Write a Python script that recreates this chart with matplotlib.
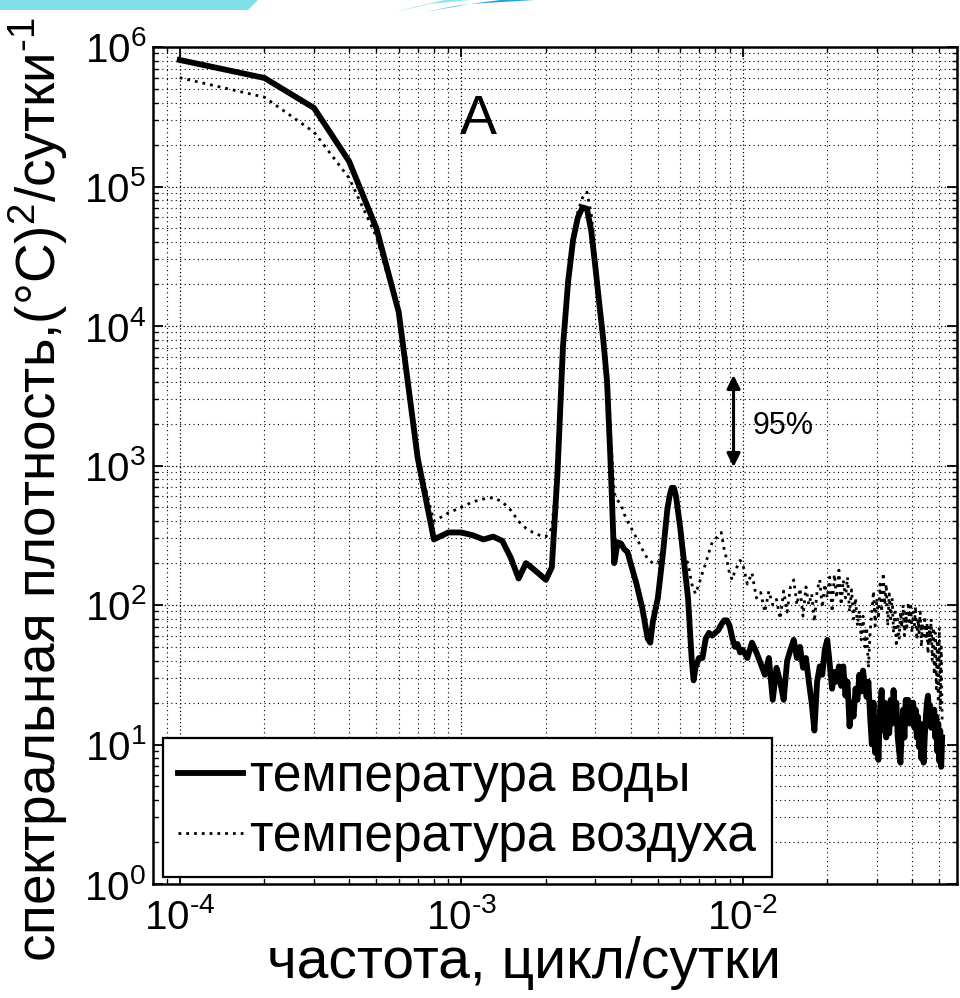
import numpy as np
import matplotlib
matplotlib.use('Agg')
import matplotlib.pyplot as plt
from matplotlib.ticker import FixedLocator, FuncFormatter, NullFormatter
from matplotlib.patches import Polygon

plt.rcParams['font.family'] = ['Liberation Sans', 'DejaVu Sans']
plt.rcParams['mathtext.fontset'] = 'custom'
plt.rcParams['mathtext.rm'] = 'Liberation Sans'
plt.rcParams['mathtext.it'] = 'Liberation Sans:italic'
plt.rcParams['mathtext.bf'] = 'Liberation Sans:bold'

# ---------------- data (frequency index k, f = k * df) ----------------
df = 1e-4  # cycles/day

water_k_lo = [1, 2, 3, 4, 5, 6, 7, 8, 9, 10, 11, 12, 13, 14, 15, 16, 17, 18, 19, 20,
              21, 22, 23, 24, 25, 26, 27, 28, 29, 30, 31, 32, 33, 34, 35,
              36, 37, 38, 39, 40, 42, 44, 46, 47, 48, 50, 52, 54, 55, 56, 57, 58, 60,
              62, 64, 66, 67, 68, 70, 72, 74, 76, 78, 80, 82, 84, 86, 88, 90, 92, 94, 96, 98]
water_log_lo = [5.907, 5.778, 5.563, 5.18, 4.70, 4.10, 3.06, 2.47, 2.52, 2.52, 2.50, 2.47,
                2.49, 2.46, 2.34, 2.19, 2.30, 2.26, 2.22, 2.18,
                2.27, 2.95, 3.85, 4.32, 4.62, 4.78, 4.85, 4.84, 4.68, 4.42, 4.15, 3.90, 3.60, 3.00, 2.30,
                2.45, 2.44, 2.40, 2.38, 2.30, 2.15, 1.98, 1.76, 1.73, 1.88, 2.05, 2.35, 2.68, 2.78, 2.84, 2.84, 2.78, 2.56,
                2.30, 2.05, 1.60, 1.46, 1.55, 1.62, 1.62, 1.76, 1.80, 1.78, 1.80, 1.82, 1.86, 1.89, 1.89, 1.85, 1.76, 1.70, 1.72, 1.66]

water_k_hi = list(range(100, 513, 4))
water_log_hi = [1.68, 1.62, 1.73, 1.66, 1.58, 1.50, 1.62, 1.32, 1.55, 1.45,
                1.32, 1.60, 1.68, 1.75, 1.62, 1.70, 1.55, 1.62, 1.45, 1.30,
                1.10, 1.45, 1.56, 1.50, 1.68, 1.75, 1.58, 1.40, 1.52, 1.45,
                1.56, 1.42, 1.56, 1.35, 1.45, 1.13, 1.30, 1.20, 1.40, 1.32,
                1.50, 1.38, 1.53, 1.42, 1.34, 1.45, 1.20, 1.00, 1.30, 0.94,
                1.15, 0.89, 1.25, 1.39, 1.10, 1.30, 1.05, 1.25, 1.08, 1.32,
                1.15, 1.39, 1.20, 1.30, 1.05, 0.95, 0.87, 1.10, 1.25, 1.05,
                1.32, 1.18, 1.32, 1.15, 1.28, 1.23, 1.30, 1.12, 1.25, 1.05,
                1.20, 0.98, 1.15, 0.90, 1.10, 0.87, 1.05, 1.20, 1.30, 1.35,
                1.20, 1.28, 1.12, 1.25, 1.15, 1.25, 1.05, 1.20, 0.95, 1.15,
                0.88, 1.10, 0.84, 1.05]

air_k_lo = [1, 2, 3, 4, 5, 6, 7, 8, 9, 10, 11, 12, 13, 14, 15, 16, 17, 18, 19, 20,
            21, 22, 23, 24, 25, 26, 27, 28, 29, 30, 31, 32, 33, 34, 35,
            36, 37, 38, 39, 40, 42, 44, 46, 48, 50, 52, 54, 56, 57, 58, 60,
            62, 64, 66, 68, 70, 72, 74, 76, 78, 80, 82, 84, 86, 88, 90, 92, 94, 96, 98]
air_log_lo = [5.78, 5.64, 5.39, 5.06, 4.64, 4.08, 3.06, 2.60, 2.66, 2.70, 2.74, 2.76,
              2.77, 2.74, 2.68, 2.60, 2.55, 2.52, 2.50, 2.49,
              2.55, 3.00, 3.85, 4.35, 4.65, 4.82, 4.92, 4.96, 4.80, 4.50, 4.20, 3.95, 3.65, 3.20, 2.80,
              2.75, 2.72, 2.65, 2.60, 2.56, 2.48, 2.40, 2.33, 2.30, 2.30, 2.40, 2.68, 2.84, 2.85, 2.78, 2.56,
              2.35, 2.30, 2.15, 2.08, 2.15, 2.23, 2.30, 2.38, 2.45, 2.47, 2.50, 2.52, 2.40, 2.32, 2.22, 2.18, 2.25, 2.28, 2.32]

air_k_hi = list(range(100, 513, 4))
air_log_hi = [2.30, 2.15, 2.23, 2.05, 2.09, 1.95, 2.10, 2.00, 2.04, 1.90,
              2.10, 1.95, 2.13, 2.18, 2.00, 2.12, 1.92, 2.13, 2.00, 2.08,
              1.88, 2.10, 2.18, 1.98, 2.15, 2.05, 2.20, 1.95, 2.22, 2.05,
              2.25, 2.00, 2.18, 2.05, 2.20, 1.95, 2.11, 1.90, 2.05, 1.85,
              1.96, 1.75, 1.92, 1.70, 1.84, 1.55, 1.80, 1.95, 2.10, 1.85,
              2.05, 1.90, 2.15, 1.95, 2.23, 2.00, 2.15, 1.85, 2.08, 1.90,
              2.05, 1.80, 1.95, 1.70, 1.90, 1.75, 1.95, 1.84, 2.00, 1.78,
              1.95, 1.84, 2.02, 1.88, 1.99, 1.80, 1.95, 1.85, 1.99, 1.75,
              1.90, 1.80, 1.95, 1.70, 1.87, 1.78, 1.92, 1.75, 1.87, 1.65,
              1.85, 1.72, 1.90, 1.60, 1.84, 1.50, 1.80, 1.40, 1.75, 1.30,
              1.84, 1.25, 1.70, 1.15]

x_decades = [-4, -3, -2]
y_decades = [0, 1, 2, 3, 4, 5, 6]
legend_labels = ['температура воды', 'температура воздуха']
x_label = 'частота, цикл/сутки'
y_label = 'спектральная плотность,(°C)$^{2}$/сутки$^{\\text{-}1}$'
panel_label = 'A'
conf_label = '95%'

# ---------------- assemble ----------------
f_water = np.array(water_k_lo + water_k_hi) * df
p_water = 10.0 ** np.array(water_log_lo + water_log_hi)
f_air = np.array(air_k_lo + air_k_hi) * df
p_air = 10.0 ** np.array(air_log_lo + air_log_hi)

W, H = 960, 998
fig = plt.figure(figsize=(W / 100, H / 100), dpi=100)
fig.patch.set_facecolor('white')


def px(x, y):
    return (x / W, 1 - y / H)


# slide decoration at the top
fig.add_artist(Polygon([px(0, 0), px(258, 0), px(248, 10), px(0, 10)], closed=True,
                       transform=fig.transFigure, facecolor='#7fe0ea', edgecolor='none'))
fig.add_artist(Polygon([px(425, 12), px(470, 4), px(535, 0), px(500, 0), px(455, 6)], closed=True,
                       transform=fig.transFigure, facecolor='#2b9fd9', edgecolor='none'))
fig.add_artist(Polygon([px(395, 12), px(430, 4), px(470, 0), px(445, 0), px(410, 8)], closed=True,
                       transform=fig.transFigure, facecolor='#8fe3ee', edgecolor='none'))

ax_l, ax_r, ax_t, ax_b = 153, 957, 47, 884
ax = fig.add_axes([ax_l / W, 1 - ax_b / H, (ax_r - ax_l) / W, (ax_b - ax_t) / H])

ax.set_xscale('log')
ax.set_yscale('log')
xmin, xmax = 10 ** -4.095, 10 ** -1.238
ax.set_xlim(xmin, xmax)
ax.set_ylim(1, 1e6)

ax.grid(True, which='major', linestyle=(0, (1, 2)), color='k', linewidth=0.9)
ax.grid(True, which='minor', linestyle=(0, (1, 3)), color='k', linewidth=0.8)

l1, = ax.plot(f_water, p_water, color='k', lw=4.2, solid_joinstyle='round', label=legend_labels[0])
l2, = ax.plot(f_air, p_air, color='k', lw=2.0, linestyle=(0, (1, 1.8)), label=legend_labels[1])


def dec_fmt(v, pos):
    e = int(round(np.log10(v)))
    if e < 0:
        return r'$10^{\text{-}%d}$' % (-e)
    return r'$10^{%d}$' % e


x_major = [10.0 ** e for e in x_decades]
y_major = [10.0 ** e for e in y_decades]
x_minor = [m * 10.0 ** e for e in range(-5, -1) for m in range(2, 10)
           if xmin <= m * 10.0 ** e <= xmax]
y_minor = [m * 10.0 ** e for e in range(0, 6) for m in range(2, 10)]

ax.xaxis.set_major_locator(FixedLocator(x_major))
ax.xaxis.set_minor_locator(FixedLocator(x_minor))
ax.yaxis.set_major_locator(FixedLocator(y_major))
ax.yaxis.set_minor_locator(FixedLocator(y_minor))
ax.xaxis.set_major_formatter(FuncFormatter(dec_fmt))
ax.yaxis.set_major_formatter(FuncFormatter(dec_fmt))
ax.xaxis.set_minor_formatter(NullFormatter())
ax.yaxis.set_minor_formatter(NullFormatter())

ax.tick_params(which='both', direction='in', top=True, right=True, labelsize=29, colors='k')
ax.tick_params(which='major', length=7, width=1.3)
ax.tick_params(which='minor', length=3.5, width=1.0)
ax.tick_params(axis='x', which='major', pad=10)
ax.tick_params(axis='y', which='major', pad=5)
for s in ax.spines.values():
    s.set_linewidth(1.8)
    s.set_color('k')

fig.text(524 / W, 1 - 978 / H, x_label, fontsize=41, ha='center', va='baseline')
fig.text(38 / W, 1 - 490 / H, y_label, fontsize=39.5, ha='center', va='center', rotation=90)

ax.text(10 ** (-4 + (478 - 180) / 281), 10 ** (6 - (120 - 47) / 139.5), panel_label,
        fontsize=40, ha='center', va='center')
ax.text(10 ** (-4 + (752 - 180) / 281), 10 ** (6 - (426 - 47) / 139.5), conf_label,
        fontsize=22, ha='left', va='center')
xa = 10 ** (-4 + (733 - 180) / 281)
ax.annotate('', xy=(xa, 10 ** (6 - (467 - 47) / 139.5)), xytext=(xa, 10 ** (6 - (375 - 47) / 139.5)),
            arrowprops=dict(arrowstyle='<|-|>', lw=2.2, color='k', mutation_scale=20,
                            shrinkA=0, shrinkB=0))

leg = ax.legend(handles=[l1, l2], loc='lower left',
                bbox_to_anchor=((163 - ax_l) / (ax_r - ax_l), (ax_b - 877) / (ax_b - ax_t)),
                borderaxespad=0, fontsize=37, handlelength=1.25, handletextpad=0.15,
                borderpad=0.3, labelspacing=0.2, frameon=True, fancybox=False,
                edgecolor='k', framealpha=1)
leg.get_frame().set_linewidth(1.6)

fig.savefig('out.png', dpi=100, facecolor='white')
